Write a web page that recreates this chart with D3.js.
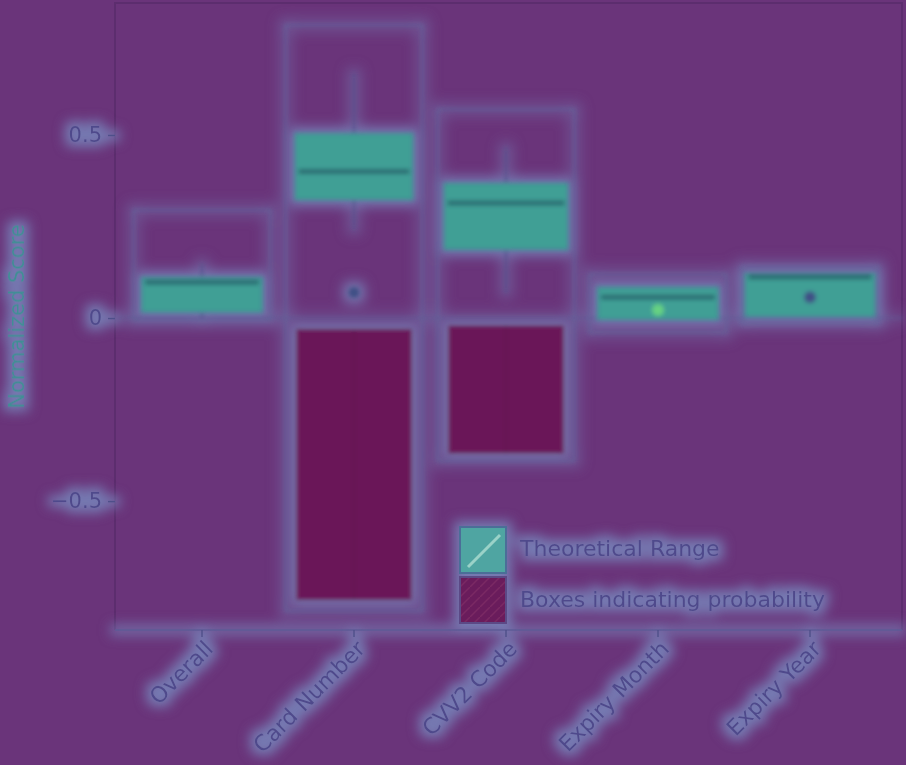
<!DOCTYPE html>
<html>
<head>
<meta charset="utf-8">
<script src="https://cdn.jsdelivr.net/npm/d3@7"></script>
<style>
  html, body { margin: 0; padding: 0; background: #6a347a; }
  svg { display: block; }
  text { font-family: "DejaVu Sans", sans-serif; }
</style>
</head>
<body>
<svg id="chart" width="906" height="765"></svg>
<script>
// ---- data ----
const categories   = ["Overall", "Card Number", "CVV2 Code", "Expiry Month", "Expiry Year"];
const yTicks       = [-0.5, 0, 0.5];
const rangeLow     = [-0.005, -0.80, -0.39, -0.04, -0.015];
const rangeHigh    = [0.295, 0.80, 0.57, 0.12, 0.14];
const q1           = [0.015, 0.322, 0.186, -0.005, 0.003];
const q3           = [0.112, 0.505, 0.369, 0.085, 0.123];
const medians      = [0.098, 0.40, 0.314, 0.057, 0.112];
const whiskerLow   = [0.0, 0.24, 0.068, -0.005, 0.003];
const whiskerHigh  = [0.15, 0.67, 0.467, 0.085, 0.123];
const markers      = [null, 0.07, null, 0.022, 0.057];
const flagLow      = [null, -0.77, -0.37, null, null];
const flagHigh     = [null, -0.03, -0.02, null, null];
const legendLabels = ["Theoretical Range", "Boxes indicating probability"];
const yTitle       = "Normalized Score";

// ---- layout ----
const W = 906, H = 765;
const plot = { left: 115, right: 902, top: 3, bottom: 630 };

const svg = d3.select("#chart");
const defs = svg.append("defs");

const glow = defs.append("filter").attr("id", "glow")
  .attr("filterUnits", "userSpaceOnUse").attr("x", 0).attr("y", 0).attr("width", W).attr("height", H);
glow.append("feMorphology").attr("in", "SourceAlpha").attr("operator", "dilate").attr("radius", 5).attr("result", "d");
glow.append("feGaussianBlur").attr("in", "d").attr("stdDeviation", 6).attr("result", "b");
glow.append("feFlood").attr("flood-color", "#7579b1").attr("flood-opacity", 1);
glow.append("feComposite").attr("in2", "b").attr("operator", "in").attr("result", "halo");
const gm = glow.append("feMerge");
gm.append("feMergeNode").attr("in", "halo");
gm.append("feMergeNode").attr("in", "SourceGraphic");

const soft = defs.append("filter").attr("id", "soft")
  .attr("filterUnits", "userSpaceOnUse").attr("x", 0).attr("y", 0).attr("width", W).attr("height", H);
soft.append("feGaussianBlur").attr("stdDeviation", 2.2);

const hatch = defs.append("pattern").attr("id", "hatch").attr("patternUnits", "userSpaceOnUse")
  .attr("width", 10).attr("height", 10);
hatch.append("rect").attr("width", 10).attr("height", 10).attr("fill", "#6a1a5c");
hatch.append("path").attr("d", "M0,10 L10,0").attr("stroke", "#7a2a64").attr("stroke-width", 1.5);

svg.append("rect").attr("width", W).attr("height", H).attr("fill", "#6a347a");

const x = d3.scaleBand().domain(categories).range([126, 886]).padding(0);
const y = d3.scaleLinear().domain([-0.852, 0.855]).range([630, 5]);

const data = categories.map((c, i) => ({
  c, rl: rangeLow[i], rh: rangeHigh[i], q1: q1[i], q3: q3[i], med: medians[i],
  wl: whiskerLow[i], wh: whiskerHigh[i], mk: markers[i], fl: flagLow[i], fh: flagHigh[i], i
}));

// frame (top / right / left), thin and dark
const frame = svg.append("g");
frame.append("path")
  .attr("d", `M${plot.left},${plot.bottom}V${plot.top}H${plot.right}V${plot.bottom}`)
  .attr("fill", "none").attr("stroke", "#5c2d6e").attr("stroke-width", 2);

const g = svg.append("g").attr("filter", "url(#glow)");
const gs = g.append("g").attr("filter", "url(#soft)");

// zero reference line
gs.append("line")
  .attr("x1", plot.left).attr("x2", plot.right)
  .attr("y1", y(0)).attr("y2", y(0))
  .attr("stroke", "#5d5a94").attr("stroke-width", 1.5);

const bw = x.bandwidth();

// outer theoretical range outlines
gs.selectAll("rect.range").data(data).join("rect").attr("class", "range")
  .attr("x", d => x(d.c) + bw * 0.05).attr("width", bw * 0.9)
  .attr("y", d => y(d.rh)).attr("height", d => y(d.rl) - y(d.rh))
  .attr("fill", "none").attr("stroke", "#62629a").attr("stroke-width", 2);

// flagged boxes (dark)
const fd = data.filter(d => d.fl !== null);
gs.selectAll("rect.flag").data(fd).join("rect").attr("class", "flag")
  .attr("x", d => x(d.c) + bw * 0.12).attr("width", bw * 0.76)
  .attr("y", d => y(d.fh)).attr("height", d => y(d.fl) - y(d.fh))
  .attr("fill", "#6b1658").attr("stroke", "#6b2a6a").attr("stroke-width", 1);
gs.selectAll("line.flagc").data(fd).join("line").attr("class", "flagc")
  .attr("x1", d => x(d.c) + bw / 2).attr("x2", d => x(d.c) + bw / 2)
  .attr("y1", d => y(d.fh)).attr("y2", d => y(d.fl))
  .attr("stroke", "#621250").attr("stroke-width", 2);

// whiskers
gs.selectAll("line.wh").data(data).join("line").attr("class", "wh")
  .attr("x1", d => x(d.c) + bw / 2).attr("x2", d => x(d.c) + bw / 2)
  .attr("y1", d => y(d.wh)).attr("y2", d => y(d.q3))
  .attr("stroke", "#54508c").attr("stroke-width", 2.5);
gs.selectAll("line.wl").data(data).join("line").attr("class", "wl")
  .attr("x1", d => x(d.c) + bw / 2).attr("x2", d => x(d.c) + bw / 2)
  .attr("y1", d => y(d.q1)).attr("y2", d => y(d.wl))
  .attr("stroke", "#54508c").attr("stroke-width", 2.5);

// boxes (teal)
const boxW = [0.8, 0.78, 0.82, 0.8, 0.86];
gs.selectAll("rect.box").data(data).join("rect").attr("class", "box")
  .attr("x", d => x(d.c) + bw * (1 - boxW[d.i]) / 2).attr("width", d => bw * boxW[d.i])
  .attr("y", d => y(d.q3)).attr("height", d => y(d.q1) - y(d.q3))
  .attr("fill", "#3f9f95").attr("stroke", "#4a7c98").attr("stroke-width", 2);
gs.selectAll("line.med").data(data).join("line").attr("class", "med")
  .attr("x1", d => x(d.c) + bw * (1 - boxW[d.i]) / 2 + 4).attr("x2", d => x(d.c) + bw * (1 + boxW[d.i]) / 2 - 4)
  .attr("y1", d => y(d.med)).attr("y2", d => y(d.med))
  .attr("stroke", "#2a6c72").attr("stroke-width", 5);

// markers
const md = data.filter(d => d.mk !== null);
gs.selectAll("circle.mk").data(md).join("circle").attr("class", "mk")
  .attr("cx", d => x(d.c) + bw / 2).attr("cy", d => y(d.mk)).attr("r", 6)
  .attr("fill", d => d.i === 3 ? "#66d282" : "#3f4f86");

// axes
const yAxis = d3.axisLeft(y).tickValues(yTicks).tickSize(7).tickPadding(6)
  .tickFormat(d => d === 0 ? "0" : d3.format(".1f")(d));
const ya = g.append("g").attr("transform", `translate(${plot.left},0)`).call(yAxis);
ya.select(".domain").remove();
ya.selectAll(".tick line").attr("stroke", "#4f4f8a").attr("stroke-width", 1.5);
ya.selectAll(".tick text").attr("fill", "#4f4a8c").attr("font-size", 21);

const xAxis = d3.axisBottom(x).tickSize(7).tickPadding(4);
const xa = g.append("g").attr("transform", `translate(0,${plot.bottom})`).call(xAxis);
xa.select(".domain").attr("stroke", "#5c5a96").attr("stroke-width", 1.5).attr("d", `M${plot.left},0H${plot.right}`);
xa.selectAll(".tick line").attr("stroke", "#4f4f8a").attr("stroke-width", 1.5);
xa.selectAll(".tick text").attr("fill", "#4f4a8c").attr("font-size", 22)
  .attr("text-anchor", "end").attr("dx", "-0.25em").attr("dy", "0.55em")
  .attr("transform", "rotate(-45)");

// y title
g.append("text")
  .attr("transform", `translate(18,${(plot.top + plot.bottom) / 2}) rotate(-90)`)
  .attr("text-anchor", "middle").attr("dominant-baseline", "middle")
  .attr("font-size", 21).attr("fill", "#3f8e96").text(yTitle);

// legend
const lg = g.append("g").attr("transform", "translate(460,527)");
lg.append("rect").attr("x", 0).attr("y", 0).attr("width", 46).attr("height", 46)
  .attr("fill", "#4fa5a2").attr("stroke", "#4c6e98").attr("stroke-width", 2);
lg.append("line").attr("x1", 8).attr("y1", 40).attr("x2", 40).attr("y2", 8)
  .attr("stroke", "#9ad2c8").attr("stroke-width", 3);
lg.append("rect").attr("x", 0).attr("y", 50).attr("width", 46).attr("height", 46)
  .attr("fill", "url(#hatch)").attr("stroke", "#5c4a86").attr("stroke-width", 2);
lg.selectAll("text").data(legendLabels).join("text")
  .attr("x", 60).attr("y", (d, i) => 23 + i * 51)
  .attr("dominant-baseline", "middle")
  .attr("font-size", 22).attr("fill", "#4f4a8c").text(d => d);
</script>
</body>
</html>
